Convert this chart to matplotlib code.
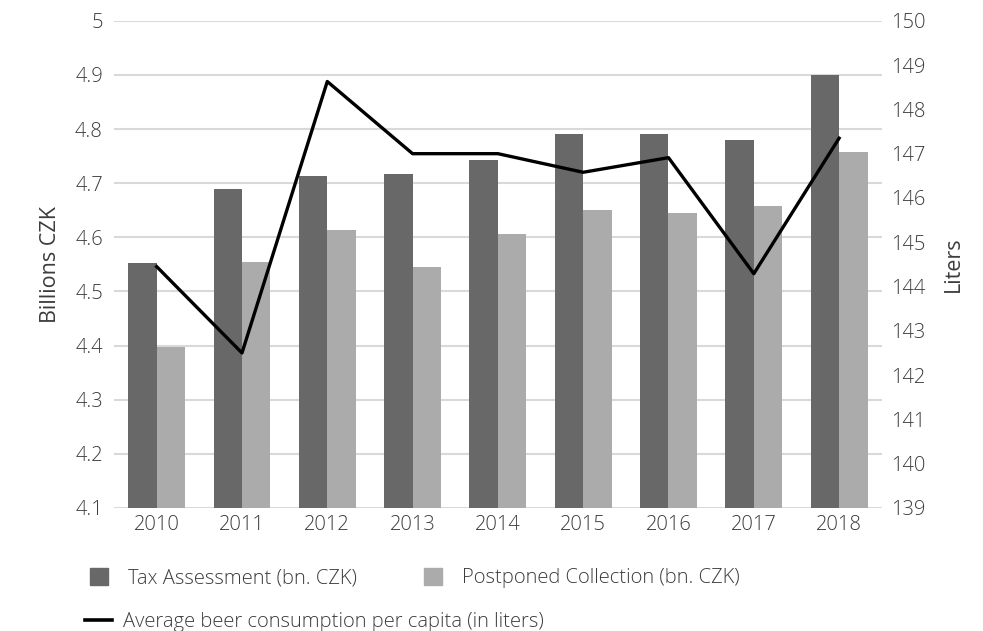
import numpy as np
import matplotlib
matplotlib.use("Agg")
from matplotlib import pyplot as plt
from matplotlib.patches import Patch
from matplotlib.lines import Line2D

plt.rcParams["font.family"] = ["Open Sans", "DejaVu Sans"]
plt.rcParams["font.weight"] = "light"

years = ["2010", "2011", "2012", "2013", "2014", "2015", "2016", "2017", "2018"]
tax_assessment = [4.553, 4.689, 4.713, 4.717, 4.742, 4.791, 4.791, 4.780, 4.900]
postponed = [4.398, 4.555, 4.613, 4.546, 4.606, 4.650, 4.645, 4.658, 4.757]
beer_liters = [144.45, 142.5, 148.63, 147.0, 147.0, 146.58, 146.91, 144.29, 147.35]

text_col = "#3c3c3c"
dark = "#686868"
light = "#ababab"
fs = 14.5

fig = plt.figure(figsize=(9.83, 6.31), dpi=100)
ax = fig.add_axes([0.116, 0.195, 0.781, 0.772])

x = np.arange(len(years))
w = 0.333

ax.bar(x - w / 2, np.array(tax_assessment) - 4.1, w, bottom=4.1, color=dark, zorder=2)
ax.bar(x + w / 2, np.array(postponed) - 4.1, w, bottom=4.1, color=light, zorder=2)

ax.set_ylim(4.1, 5.0)
ax.set_xlim(-0.5, len(years) - 0.5)
ax.set_yticks(np.arange(4.1, 5.01, 0.1))
ax.set_yticklabels(["4.1", "4.2", "4.3", "4.4", "4.5", "4.6", "4.7", "4.8", "4.9", "5"])
ax.set_xticks(x)
ax.set_xticklabels(years)
ax.grid(axis="y", color="#d9d9d9", linewidth=1.5, zorder=0)
ax.set_axisbelow(True)
for s in ax.spines.values():
    s.set_visible(False)
ax.tick_params(axis="both", length=0, labelsize=fs, colors=text_col)
ax.tick_params(axis="y", pad=8)
ax.tick_params(axis="x", pad=5)
ax.set_ylabel("Billions CZK", fontsize=15.5, color=text_col, labelpad=10)

ax2 = ax.twinx()
ax2.plot(x, beer_liters, color="black", linewidth=2.4, zorder=3)
ax2.set_ylim(139, 150)
ax2.set_yticks(np.arange(139, 151, 1))
for s in ax2.spines.values():
    s.set_visible(False)
ax2.tick_params(axis="y", length=0, labelsize=fs, colors=text_col, pad=7)
ax2.set_ylabel("Liters", fontsize=15.5, color=text_col, labelpad=12)

leg1 = fig.legend(
    handles=[Patch(color=dark), Patch(color=light)],
    labels=["Tax Assessment (bn. CZK)", "Postponed Collection (bn. CZK)"],
    loc="center left", bbox_to_anchor=(0.073, 0.084), ncol=2, frameon=False,
    fontsize=fs, handlelength=0.9, handleheight=0.9, handletextpad=1.0,
    columnspacing=3.3, labelcolor=text_col,
)
leg2 = fig.legend(
    handles=[Line2D([0], [0], color="black", linewidth=2.6)],
    labels=["Average beer consumption per capita (in liters)"],
    loc="center left", bbox_to_anchor=(0.068, 0.0145), frameon=False,
    fontsize=fs, handlelength=1.35, handletextpad=0.55, labelcolor=text_col,
)

fig.savefig("out.png", dpi=100)
